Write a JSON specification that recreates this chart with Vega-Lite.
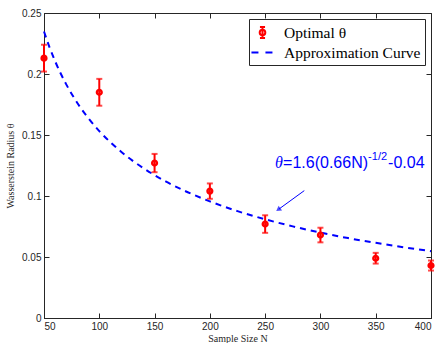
{
  "$schema": "https://vega.github.io/schema/vega-lite/v6.json",
  "autosize": "none",
  "width": 387,
  "height": 305,
  "padding": {"left": 44, "top": 13, "right": 7, "bottom": 25},
  "background": "white",
  "config": {
    "view": {"stroke": "#262626", "strokeWidth": 1},
    "axis": {
      "grid": false,
      "domainColor": "#262626",
      "tickColor": "#262626",
      "labelColor": "#262626",
      "labelFont": "Liberation Sans",
      "labelFontSize": 10,
      "titleFont": "Liberation Serif",
      "titleFontWeight": "normal",
      "titleFontSize": 10,
      "titleColor": "#262626",
      "tickSize": -5,
      "labelPadding": 8
    }
  },
  "datasets": {
    "pts": [
      {"N": 50, "theta": 0.213, "err": 0.011, "series": "Optimal θ"},
      {"N": 100, "theta": 0.185, "err": 0.011, "series": "Optimal θ"},
      {"N": 150, "theta": 0.127, "err": 0.0075, "series": "Optimal θ"},
      {"N": 200, "theta": 0.104, "err": 0.0063, "series": "Optimal θ"},
      {"N": 250, "theta": 0.077, "err": 0.0072, "series": "Optimal θ"},
      {"N": 300, "theta": 0.068, "err": 0.006, "series": "Optimal θ"},
      {"N": 350, "theta": 0.049, "err": 0.0044, "series": "Optimal θ"},
      {"N": 400, "theta": 0.043, "err": 0.0041, "series": "Optimal θ"}
    ],
    "curve": [
      {"N": 50, "theta": 0.2348, "series": "Approximation Curve"},
      {"N": 55, "theta": 0.2219, "series": "Approximation Curve"},
      {"N": 60, "theta": 0.2106, "series": "Approximation Curve"},
      {"N": 65, "theta": 0.2006, "series": "Approximation Curve"},
      {"N": 70, "theta": 0.1917, "series": "Approximation Curve"},
      {"N": 80, "theta": 0.1765, "series": "Approximation Curve"},
      {"N": 90, "theta": 0.1639, "series": "Approximation Curve"},
      {"N": 100, "theta": 0.1532, "series": "Approximation Curve"},
      {"N": 110, "theta": 0.1441, "series": "Approximation Curve"},
      {"N": 120, "theta": 0.1361, "series": "Approximation Curve"},
      {"N": 130, "theta": 0.129, "series": "Approximation Curve"},
      {"N": 140, "theta": 0.1228, "series": "Approximation Curve"},
      {"N": 150, "theta": 0.1171, "series": "Approximation Curve"},
      {"N": 160, "theta": 0.112, "series": "Approximation Curve"},
      {"N": 180, "theta": 0.1031, "series": "Approximation Curve"},
      {"N": 200, "theta": 0.0956, "series": "Approximation Curve"},
      {"N": 225, "theta": 0.0876, "series": "Approximation Curve"},
      {"N": 250, "theta": 0.0809, "series": "Approximation Curve"},
      {"N": 275, "theta": 0.0751, "series": "Approximation Curve"},
      {"N": 300, "theta": 0.07, "series": "Approximation Curve"},
      {"N": 325, "theta": 0.0655, "series": "Approximation Curve"},
      {"N": 350, "theta": 0.0616, "series": "Approximation Curve"},
      {"N": 375, "theta": 0.058, "series": "Approximation Curve"},
      {"N": 400, "theta": 0.0548, "series": "Approximation Curve"}
    ],
    "arrow": [
      {"N": 285.4, "theta": 0.1044, "N2": 262.5, "theta2": 0.0893}
    ],
    "label": [
      {"N": 259, "theta": 0.123}
    ]
  },
  "resolve": {"axis": {"x": "independent", "y": "independent"}},
  "layer": [
    {
      "data": {"name": "curve"},
      "mark": {"type": "line", "strokeDash": [6, 5], "strokeWidth": 2, "interpolate": "monotone"},
      "encoding": {
        "x": {"field": "N", "type": "quantitative", "scale": {"domain": [50, 400], "nice": false, "zero": false},
          "axis": {"orient": "bottom", "values": [50, 100, 150, 200, 250, 300, 350, 400], "title": "Sample Size N", "titlePadding": 2}},
        "y": {"field": "theta", "type": "quantitative", "scale": {"domain": [0, 0.25], "nice": false},
          "axis": {"orient": "left", "values": [0, 0.05, 0.1, 0.15, 0.2, 0.25], "format": "~g", "title": "Wasserstein Radius θ", "titlePadding": 6}},
        "color": {"field": "series", "type": "nominal",
          "scale": {"domain": ["Optimal θ", "Approximation Curve"], "range": ["#ff0000", "#0000ff"]},
          "legend": {
            "title": null,
            "orient": "top-right",
            "offset": 6,
            "strokeColor": "#262626",
            "fillColor": "white",
            "padding": 4,
            "labelFont": "Liberation Serif",
            "labelFontSize": 15.5,
            "labelColor": "black",
            "symbolSize": 289,
            "symbolStrokeWidth": 2,
            "labelOffset": 12,
            "rowPadding": 0,
            "encode": {
              "symbols": {
                "update": {
                  "shape": {"signal": "datum.value == 'Optimal θ' ? 'M0,-0.65V0.65M-0.3,-0.65H0.3M-0.3,0.65H0.3M0.33,0A0.33,0.33 0 1,1 -0.33,0A0.33,0.33 0 1,1 0.33,0' : 'M-1.3,0H1.3'"},
                  "stroke": {"signal": "datum.value == 'Optimal θ' ? '#ff0000' : '#0000ff'"},
                  "fill": {"value": "transparent"},
                  "strokeWidth": {"value": 2},
                  "strokeDash": {"signal": "datum.value == 'Optimal θ' ? [] : [7, 7]"}
                }
              }
            }
          }
        }
      }
    },
    {
      "data": {"name": "curve"},
      "mark": {"type": "rule", "opacity": 0},
      "encoding": {
        "x": {"field": "N", "type": "quantitative", "scale": {"domain": [50, 400], "nice": false, "zero": false},
          "axis": {"orient": "top", "values": [50, 100, 150, 200, 250, 300, 350, 400], "labels": false, "title": null, "domain": false}},
        "y": {"field": "theta", "type": "quantitative", "scale": {"domain": [0, 0.25], "nice": false},
          "axis": {"orient": "right", "values": [0, 0.05, 0.1, 0.15, 0.2, 0.25], "labels": false, "title": null, "domain": false}}
      }
    },
    {
      "data": {"name": "pts"},
      "mark": {"type": "errorbar", "ticks": {"size": 6, "thickness": 2}, "thickness": 2},
      "encoding": {
        "x": {"field": "N", "type": "quantitative", "axis": null},
        "y": {"field": "theta", "type": "quantitative", "axis": null},
        "yError": {"field": "err"},
        "color": {"value": "#ff0000"}
      }
    },
    {
      "data": {"name": "pts"},
      "mark": {"type": "point", "filled": false, "size": 22, "strokeWidth": 2.5, "opacity": 1},
      "encoding": {
        "x": {"field": "N", "type": "quantitative", "axis": null},
        "y": {"field": "theta", "type": "quantitative", "axis": null},
        "color": {"value": "#ff0000"}
      }
    },
    {
      "data": {"name": "arrow"},
      "mark": {"type": "rule", "color": "#0000ff", "strokeWidth": 1},
      "encoding": {
        "x": {"field": "N", "type": "quantitative", "axis": null},
        "y": {"field": "theta", "type": "quantitative", "axis": null},
        "x2": {"field": "N2"},
        "y2": {"field": "theta2"}
      }
    },
    {
      "data": {"name": "arrow"},
      "mark": {"type": "point", "shape": "triangle", "filled": true, "color": "#0000ff", "size": 35, "angle": 234},
      "encoding": {
        "x": {"field": "N2", "type": "quantitative", "axis": null},
        "y": {"field": "theta2", "type": "quantitative", "axis": null}
      }
    },
    {
      "data": {"name": "label"},
      "mark": {"type": "text", "text": "θ", "font": "Liberation Serif", "fontStyle": "italic", "fontSize": 16, "color": "#0000ff", "align": "left", "baseline": "alphabetic"},
      "encoding": {
        "x": {"field": "N", "type": "quantitative", "axis": null},
        "y": {"field": "theta", "type": "quantitative", "axis": null}
      }
    },
    {
      "data": {"name": "label"},
      "mark": {"type": "text", "text": "=1.6(0.66N)", "font": "Liberation Sans", "fontSize": 16, "color": "#0000ff", "align": "left", "baseline": "alphabetic", "dx": 8},
      "encoding": {
        "x": {"field": "N", "type": "quantitative", "axis": null},
        "y": {"field": "theta", "type": "quantitative", "axis": null}
      }
    },
    {
      "data": {"name": "label"},
      "mark": {"type": "text", "text": "-1/2", "font": "Liberation Sans", "fontSize": 11, "color": "#0000ff", "align": "left", "baseline": "alphabetic", "dx": 93, "dy": -8},
      "encoding": {
        "x": {"field": "N", "type": "quantitative", "axis": null},
        "y": {"field": "theta", "type": "quantitative", "axis": null}
      }
    },
    {
      "data": {"name": "label"},
      "mark": {"type": "text", "text": "-0.04", "font": "Liberation Sans", "fontSize": 16, "color": "#0000ff", "align": "left", "baseline": "alphabetic", "dx": 113},
      "encoding": {
        "x": {"field": "N", "type": "quantitative", "axis": null},
        "y": {"field": "theta", "type": "quantitative", "axis": null}
      }
    }
  ]
}
